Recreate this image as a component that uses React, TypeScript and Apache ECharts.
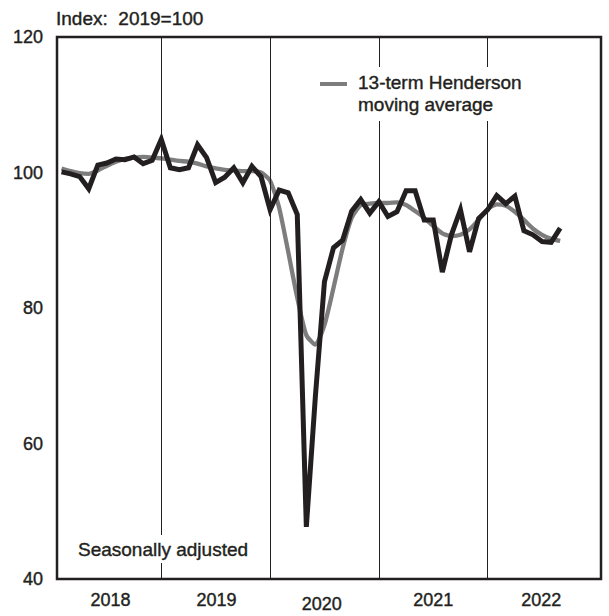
import React, { useEffect, useRef } from 'react';
import * as echarts from 'echarts';

// Monthly index values, Jan 2018 – Aug 2022 (2019 = 100)
const SEASONALLY_ADJUSTED = [
  100.1, 99.8, 99.4, 97.6, 101.1, 101.4, 102.0, 101.9, 102.3, 101.3, 101.8, 104.9,
  100.7, 100.4, 100.7, 104.1, 102.2, 98.5, 99.3, 100.7, 98.5, 100.9, 99.4, 94.5,
  97.4, 97.0, 93.8, 47.7, 67.0, 83.9, 88.9, 90.0, 94.3, 96.0, 94.0, 95.7,
  93.5, 94.2, 97.3, 97.3, 93.0, 93.0, 85.3, 90.8, 94.5, 88.3, 93.2, 94.5,
  96.6, 95.4, 96.5, 91.4, 90.8, 89.8, 89.7, 91.8,
];

const HENDERSON_13 = [
  100.6, 100.2, 99.9, 99.8, 100.3, 101.0, 101.6, 102.0, 102.2, 102.3, 102.2, 102.1,
  101.9, 101.7, 101.6, 101.3, 100.9, 100.6, 100.4, 100.3, 100.2, 100.2, 100.0, 98.8,
  94.8, 88.3, 81.5, 76.0, 74.6, 77.5, 83.0, 88.8, 93.3, 95.2, 95.4, 95.5,
  95.5, 95.6, 95.2, 94.3, 93.3, 92.1, 91.0, 90.6, 90.8, 91.6, 93.0, 94.6,
  95.3, 95.1, 94.2, 93.0, 91.7, 90.8, 90.2, 89.9,
];

const YEAR_LABELS = ['2018', '2019', '2020', '2021', '2022'];
const YEAR_LABEL_POS = [5.4, 17.1, 28.7, 41, 52.9];
const YEAR_DIVIDERS = [11, 23, 35, 47];

const FONT = '"Liberation Sans", Arial, Helvetica, sans-serif';
const INK = '#231f20';
const GREY = '#7d7d7d';

export default function App() {
  const ref = useRef<HTMLDivElement>(null);

  useEffect(() => {
    if (!ref.current) return;
    const chart = echarts.init(ref.current, undefined, { renderer: 'svg' });
    const axisText = {
      fontSize: 18,
      fontFamily: FONT,
      color: INK,
      textBorderColor: INK,
      textBorderWidth: 0.4,
    };
    const noteText = {
      fontSize: 19,
      fontFamily: FONT,
      fill: INK,
      stroke: INK,
      lineWidth: 0.4,
    };
    const option = {
      animation: false,
      backgroundColor: '#ffffff',
      grid: {
        left: 57,
        right: 8,
        top: 37,
        bottom: 37,
        show: true,
        borderColor: INK,
        borderWidth: 2.5,
        backgroundColor: 'transparent',
      },
      xAxis: {
        type: 'value',
        min: -0.5,
        max: 59.5,
        axisLine: { show: false },
        axisTick: { show: false },
        splitLine: { show: false },
        axisLabel: {
          customValues: YEAR_LABEL_POS,
          margin: 12,
          ...axisText,
          formatter: (v: number) => {
            const i = YEAR_LABEL_POS.findIndex((p) => Math.abs(p - v) < 0.01);
            if (i < 0) return '';
            return i === 2 ? `{low|${YEAR_LABELS[i]}}` : `{n|${YEAR_LABELS[i]}}`;
          },
          rich: {
            n: { ...axisText },
            low: { ...axisText, padding: [4, 0, 0, 0] },
          },
        },
      },
      yAxis: {
        type: 'value',
        min: 40,
        max: 120,
        interval: 20,
        axisLine: { show: false },
        axisTick: { show: false },
        splitLine: { show: false },
        axisLabel: { ...axisText, margin: 14 },
      },
      series: [
        {
          name: '13-term Henderson moving average',
          type: 'line',
          data: HENDERSON_13.map((v, i) => [i, v]),
          symbol: 'none',
          smooth: 0.2,
          lineStyle: { color: GREY, width: 4.3, join: 'round' },
          z: 2,
          markLine: {
            silent: true,
            symbol: ['none', 'none'],
            label: { show: false },
            lineStyle: { color: INK, width: 1, type: 'solid' },
            emphasis: { disabled: true },
            data: YEAR_DIVIDERS.map((x) => ({ xAxis: x })),
          },
        },
        {
          name: 'Seasonally adjusted',
          type: 'line',
          data: SEASONALLY_ADJUSTED.map((v, i) => [i, v]),
          symbol: 'none',
          lineStyle: { color: INK, width: 5, join: 'miter', miterLimit: 4 },
          z: 3,
        },
      ],
      graphic: [
        {
          type: 'text',
          x: 56,
          y: 18,
          z: 100,
          style: { ...noteText, text: 'Index:  2019=100', verticalAlign: 'middle' },
        },
        {
          type: 'text',
          x: 354,
          y: 67,
          z: 100,
          style: {
            ...noteText,
            text: '13-term Henderson\nmoving average',
            lineHeight: 22,
            verticalAlign: 'top',
            backgroundColor: '#ffffff',
            padding: [4, 4, 6, 4],
          },
        },
        {
          type: 'line',
          z: 100,
          shape: { x1: 320, y1: 84, x2: 347, y2: 84 },
          style: { stroke: GREY, lineWidth: 4 },
        },
        {
          type: 'text',
          x: 74,
          y: 549,
          z: 100,
          style: {
            ...noteText,
            text: 'Seasonally adjusted',
            verticalAlign: 'middle',
            backgroundColor: '#ffffff',
            padding: [5, 4, 4, 4],
          },
        },
      ],
    };
    chart.setOption(option as any);
    return () => chart.dispose();
  }, []);

  return (
    <div
      ref={ref}
      style={{ position: 'absolute', left: 0, top: 0, width: 609, height: 616 }}
    />
  );
}
